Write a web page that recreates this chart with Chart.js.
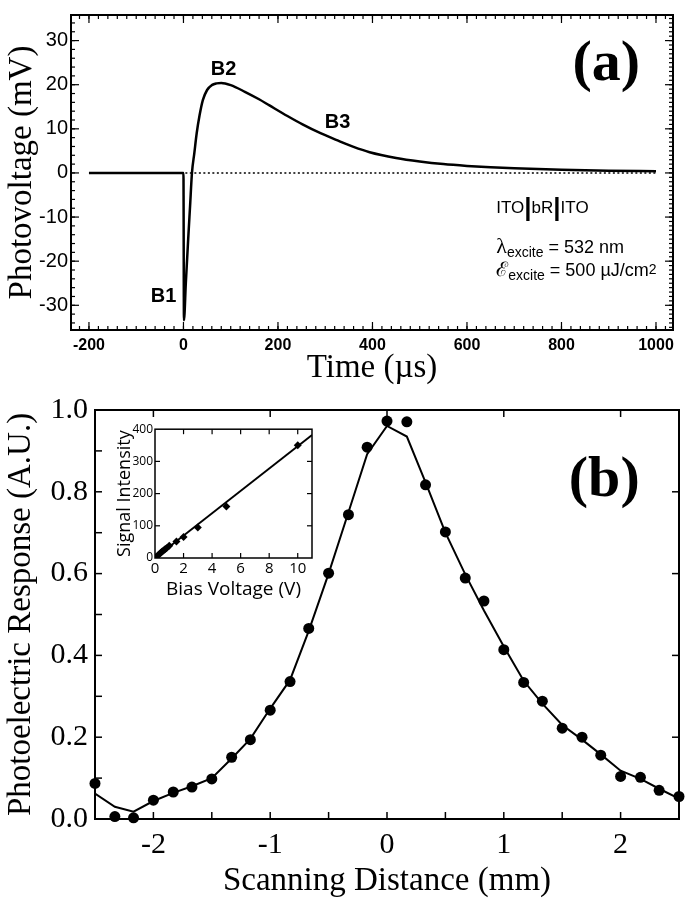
<!DOCTYPE html>
<html>
<head>
<meta charset="utf-8">
<script src="https://cdn.jsdelivr.net/npm/chart.js@4.4.0/dist/chart.umd.min.js"></script>
<style>
  html, body { margin: 0; padding: 0; background: #fff; }
  #wrap { position: relative; width: 687px; height: 899px; overflow: hidden; background: #fff; }
  canvas { position: absolute; }
</style>
</head>
<body>
<div id="wrap">
  <canvas id="top" width="687" height="385" style="left:0;top:0"></canvas>
  <canvas id="bottom" width="687" height="514" style="left:0;top:385px"></canvas>
  <canvas id="inset" width="225" height="185" style="left:100px;top:420px"></canvas>
</div>
<script>
// ---- panel (a): photovoltage transient ----
const timeUs = [-200, -100, 0, 1, 5, 10, 14, 18, 23, 28, 34, 41, 50, 60, 70, 80, 100, 130, 160, 182,
  220, 252, 290, 323, 360, 394, 450, 500, 550, 600, 650, 700, 800, 900, 1000];
const photovoltage = [0, 0, 0, -33.4, -25, -15, -7.5, 0, 4.5, 9, 13, 16.5, 18.8, 19.9, 20.3, 20.4, 19.9, 18.4, 16.7, 15.3,
  12.9, 11.0, 9.0, 7.5, 5.9, 4.7, 3.4, 2.6, 2.0, 1.6, 1.3, 1.05, 0.7, 0.5, 0.4];
const zeroLineT = [4, 1000];
const zeroLineV = [0, 0];
const timeTicks = [-200, 0, 200, 400, 600, 800, 1000];
const voltTicks = [-30, -20, -10, 0, 10, 20, 30];

// ---- panel (b): scanning profile ----
const scanMm = [-2.5, -2.33, -2.17, -2, -1.83, -1.67, -1.5, -1.33, -1.17, -1, -0.83, -0.67, -0.5, -0.33, -0.17,
  0, 0.17, 0.33, 0.5, 0.67, 0.83, 1, 1.17, 1.33, 1.5, 1.67, 1.83, 2, 2.17, 2.33, 2.5];
const responseMeasured = [0.087, 0.006, 0.003, 0.046, 0.066, 0.078, 0.098, 0.151, 0.194, 0.266, 0.336, 0.466, 0.601, 0.744, 0.909,
  0.973, 0.971, 0.817, 0.702, 0.589, 0.533, 0.414, 0.334, 0.288, 0.222, 0.200, 0.156, 0.104, 0.102, 0.070, 0.055];
const responseFit = [0.062, 0.030, 0.018, 0.044, 0.064, 0.080, 0.100, 0.148, 0.196, 0.270, 0.340, 0.460, 0.600, 0.750, 0.892,
  0.961, 0.935, 0.823, 0.700, 0.598, 0.510, 0.422, 0.338, 0.282, 0.230, 0.194, 0.158, 0.118, 0.098, 0.074, 0.050];
const scanTicks = [-2, -1, 0, 1, 2];
const responseTicks = [0, 0.2, 0.4, 0.6, 0.8, 1.0];

// ---- inset: signal vs bias ----
const biasV = [0.1, 0.2, 0.3, 0.4, 0.5, 0.6, 0.7, 0.8, 1, 1.5, 2, 3, 5, 10];
const signal = [4, 8, 12, 16, 20, 23, 27, 30, 38, 51, 65, 95, 160, 350];
const biasFitV = [0, 11];
const signalFit = [0, 382];
const biasTicks = [0, 2, 4, 6, 8, 10];
const signalTicks = [0, 100, 200, 300, 400];

const SERIF = '"Liberation Serif", "Times New Roman", serif';
const SANS = '"Liberation Sans", Arial, sans-serif';
const MYRIAD = '"Open Sans", "Liberation Sans", sans-serif';

const pts = (xs, ys) => xs.map((x, i) => ({ x, y: ys[i] }));

// frame + inward ticks, placed through the chart scales
function frameTicks(spec) {
  return {
    id: 'frameTicks',
    afterDraw(chart) {
      const { ctx, chartArea: a, scales } = chart;
      ctx.save();
      ctx.strokeStyle = '#000';
      ctx.lineWidth = spec.frame;
      ctx.strokeRect(a.left, a.top, a.right - a.left, a.bottom - a.top);
      ctx.lineWidth = spec.tick;
      spec.ticks.forEach(t => {
        const s = scales[t.scale];
        const n = Math.round((t.to - t.from) / t.step);
        for (let i = 0; i <= n; i++) {
          const p = s.getPixelForValue(t.from + i * t.step);
          ctx.beginPath();
          if (t.side === 'bottom') { ctx.moveTo(p, a.bottom); ctx.lineTo(p, a.bottom - t.len); }
          if (t.side === 'top') { ctx.moveTo(p, a.top); ctx.lineTo(p, a.top + t.len); }
          if (t.side === 'left') { ctx.moveTo(a.left, p); ctx.lineTo(a.left + t.len, p); }
          if (t.side === 'right') { ctx.moveTo(a.right, p); ctx.lineTo(a.right - t.len, p); }
          ctx.stroke();
        }
      });
      ctx.restore();
    }
  };
}

function drawRich(ctx, x, y, parts) {
  let cx = x;
  parts.forEach(p => {
    ctx.font = p.font;
    ctx.fillText(p.text, cx, y + (p.dy || 0));
    cx += ctx.measureText(p.text).width + (p.gap || 0);
  });
}

const noGrid = { display: false, drawTicks: false };
const noBorder = { display: false };

// ================= panel (a) =================
const topLabels = {
  id: 'topLabels',
  afterDraw(chart) {
    const { ctx, scales: { x, y } } = chart;
    ctx.save();
    ctx.fillStyle = '#000';
    ctx.textAlign = 'center';
    ctx.textBaseline = 'middle';
    ctx.font = 'bold 20px ' + SANS;
    ctx.fillText('B1', x.getPixelForValue(-42), y.getPixelForValue(-28));
    ctx.fillText('B2', x.getPixelForValue(85), y.getPixelForValue(23.5));
    ctx.fillText('B3', x.getPixelForValue(326), y.getPixelForValue(11.4));
    ctx.font = 'bold 58px ' + SERIF;
    ctx.fillText('(a)', x.getPixelForValue(895), y.getPixelForValue(24.4));
    ctx.textAlign = 'left';
    ctx.textBaseline = 'alphabetic';
    const lx = x.getPixelForValue(662);
    const f = '18px ' + SANS;
    const fi = '17px ' + SANS;
    const bar = 'bold 26px ' + SANS;
    drawRich(ctx, lx, y.getPixelForValue(-9.0), [
      { text: 'ITO', font: fi }, { text: '|', font: bar, dy: 3 }, { text: 'bR', font: fi },
      { text: '|', font: bar, dy: 3 }, { text: 'ITO', font: fi }
    ]);
    drawRich(ctx, lx, y.getPixelForValue(-18.2), [
      { text: 'λ', font: '22px ' + SERIF }, { text: 'excite', font: '14px ' + SANS, dy: 4 },
      { text: ' = 532 nm', font: f }
    ]);
    drawRich(ctx, lx, y.getPixelForValue(-23.3), [
      { text: 'ℰ', font: '20px ' + SERIF }, { text: 'excite', font: '14px ' + SANS, dy: 4 },
      { text: ' = 500 µJ/cm', font: f }, { text: '2', font: '14px ' + SANS, dy: -2 }
    ]);
    ctx.restore();
  }
};

new Chart(document.getElementById('top'), {
  type: 'line',
  data: {
    datasets: [
      { data: pts(timeUs, photovoltage), borderColor: '#000', borderWidth: 2.5, pointRadius: 0,
        cubicInterpolationMode: 'monotone' },
      { data: pts(zeroLineT, zeroLineV), borderColor: '#000', borderWidth: 1.5, borderDash: [2, 2.5],
        pointRadius: 0 }
    ]
  },
  options: {
    responsive: false, animation: false, devicePixelRatio: 1,
    layout: { padding: { top: 5, right: 14, left: 0, bottom: 0 } },
    plugins: { legend: { display: false }, tooltip: { enabled: false } },
    scales: {
      x: {
        type: 'linear', min: -238, max: 1036,
        afterBuildTicks: s => { s.ticks = timeTicks.map(v => ({ value: v })); },
        afterFit: s => { s.height = 55; },
        grid: noGrid, border: noBorder,
        ticks: { color: '#000', font: { family: SANS, size: 16, weight: 'bold' }, padding: 6, maxRotation: 0,
          callback: v => String(v) },
        title: { display: true, text: 'Time (µs)', color: '#000', font: { family: SERIF, size: 33, lineHeight: 1 },
          padding: { top: 0, bottom: 0 } }
      },
      y: {
        type: 'linear', min: -35.6, max: 35.8,
        afterBuildTicks: s => { s.ticks = voltTicks.map(v => ({ value: v })); },
        afterFit: s => { s.width = 71; },
        grid: noGrid, border: noBorder,
        ticks: { color: '#000', font: { family: SANS, size: 20 }, padding: 3, callback: v => String(v) },
        title: { display: true, text: 'Photovoltage (mV)', color: '#000', font: { family: SERIF, size: 33, lineHeight: 1 },
          padding: { top: 6, bottom: 0 } }
      }
    }
  },
  plugins: [frameTicks({
    frame: 2, tick: 1.2,
    ticks: [
      { scale: 'x', side: 'bottom', from: -220, to: 1020, step: 20, len: 4 },
      { scale: 'x', side: 'bottom', from: -200, to: 1000, step: 200, len: 8 },
      { scale: 'x', side: 'top', from: -220, to: 1020, step: 20, len: 4 },
      { scale: 'x', side: 'top', from: -200, to: 1000, step: 200, len: 8 },
      { scale: 'y', side: 'left', from: -34, to: 34, step: 2, len: 4 },
      { scale: 'y', side: 'left', from: -30, to: 30, step: 10, len: 8 },
      { scale: 'y', side: 'right', from: -35, to: 35, step: 1, len: 4 },
      { scale: 'y', side: 'right', from: -30, to: 30, step: 10, len: 8 }
    ]
  }), topLabels]
});

// ================= panel (b) =================
const bottomLabels = {
  id: 'bottomLabels',
  afterDraw(chart) {
    const { ctx, scales: { x, y } } = chart;
    ctx.save();
    ctx.fillStyle = '#000';
    ctx.textAlign = 'center';
    ctx.textBaseline = 'middle';
    ctx.font = 'bold 58px ' + SERIF;
    ctx.fillText('(b)', x.getPixelForValue(1.86), y.getPixelForValue(0.827));
    ctx.restore();
  }
};

new Chart(document.getElementById('bottom'), {
  type: 'line',
  data: {
    datasets: [
      { data: pts(scanMm, responseFit), borderColor: '#000', borderWidth: 2, pointRadius: 0, tension: 0 },
      { data: pts(scanMm, responseMeasured), showLine: false, pointRadius: 5.5, pointBackgroundColor: '#000',
        pointBorderColor: '#000', pointBorderWidth: 0, clip: false }
    ]
  },
  options: {
    responsive: false, animation: false, devicePixelRatio: 1,
    layout: { padding: { top: 18, right: 8, left: 0, bottom: 0 } },
    plugins: { legend: { display: false }, tooltip: { enabled: false } },
    scales: {
      x: {
        type: 'linear', min: -2.5, max: 2.5,
        afterBuildTicks: s => { s.ticks = scanTicks.map(v => ({ value: v })); },
        afterFit: s => { s.height = 80; },
        grid: noGrid, border: noBorder,
        ticks: { color: '#000', font: { family: SERIF, size: 30 }, padding: 8, maxRotation: 0,
          callback: v => String(v) },
        title: { display: true, text: 'Scanning Distance (mm)', color: '#000', font: { family: SERIF, size: 33, lineHeight: 1 },
          padding: { top: 0, bottom: 1 } }
      },
      y: {
        type: 'linear', min: 0, max: 1,
        afterBuildTicks: s => { s.ticks = responseTicks.map(v => ({ value: v })); },
        afterFit: s => { s.width = 95; },
        grid: noGrid, border: noBorder,
        ticks: { color: '#000', font: { family: SERIF, size: 30 }, padding: 7, callback: v => v.toFixed(1) },
        title: { display: true, text: 'Photoelectric Response (A.U.)', color: '#000',
          font: { family: SERIF, size: 33, lineHeight: 1 }, padding: { top: 5, bottom: 0 } }
      }
    }
  },
  plugins: [frameTicks({
    frame: 2, tick: 1.5,
    ticks: [
      { scale: 'x', side: 'bottom', from: -2, to: 2.5, step: 0.5, len: 7 },
      { scale: 'x', side: 'top', from: -2, to: 2, step: 1, len: 7 },
      { scale: 'y', side: 'left', from: 0.1, to: 0.9, step: 0.1, len: 7 },
      { scale: 'y', side: 'right', from: 0.2, to: 0.8, step: 0.2, len: 7 }
    ]
  }), bottomLabels]
});

// ================= inset =================
new Chart(document.getElementById('inset'), {
  type: 'line',
  data: {
    datasets: [
      { data: pts(biasFitV, signalFit), borderColor: '#000', borderWidth: 1.8, pointRadius: 0 },
      { data: pts(biasV, signal), showLine: false, pointStyle: 'rectRot', pointRadius: 4,
        pointBackgroundColor: '#000', pointBorderColor: '#000', pointBorderWidth: 0 }
    ]
  },
  options: {
    responsive: false, animation: false, devicePixelRatio: 1,
    layout: { padding: { top: 7, right: 13, left: 0, bottom: 0 } },
    plugins: { legend: { display: false }, tooltip: { enabled: false } },
    scales: {
      x: {
        type: 'linear', min: 0, max: 11,
        afterBuildTicks: s => { s.ticks = biasTicks.map(v => ({ value: v })); },
        afterFit: s => { s.height = 47; },
        grid: noGrid, border: noBorder,
        ticks: { color: '#000', font: { family: MYRIAD, size: 15 }, padding: 2, maxRotation: 0 },
        title: { display: true, text: 'Bias Voltage (V)', color: '#000', font: { family: MYRIAD, size: 19, lineHeight: 1 },
          padding: { top: 0, bottom: 6 } }
      },
      y: {
        type: 'linear', min: 0, max: 400,
        afterBuildTicks: s => { s.ticks = signalTicks.map(v => ({ value: v })); },
        afterFit: s => { s.width = 55; },
        grid: noGrid, border: noBorder,
        ticks: { color: '#000', font: { family: MYRIAD, size: 12 }, padding: 2 },
        title: { display: true, text: 'Signal Intensity', color: '#000', font: { family: MYRIAD, size: 18, lineHeight: 1 },
          padding: { top: 16, bottom: 0 } }
      }
    }
  },
  plugins: [frameTicks({
    frame: 1.5, tick: 1.2,
    ticks: [
      { scale: 'x', side: 'bottom', from: 2, to: 10, step: 2, len: 5 },
      { scale: 'x', side: 'top', from: 2, to: 10, step: 2, len: 5 },
      { scale: 'y', side: 'left', from: 100, to: 300, step: 100, len: 5 },
      { scale: 'y', side: 'right', from: 100, to: 300, step: 100, len: 5 }
    ]
  })]
});
</script>
</body>
</html>
